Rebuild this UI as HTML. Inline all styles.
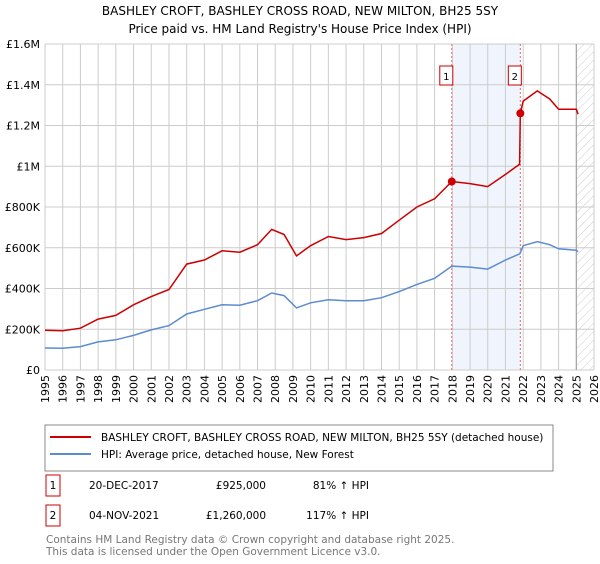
<!DOCTYPE html>
<html><head><meta charset="utf-8"><style>
body{margin:0;background:#fff;font-family:"DejaVu Sans","Liberation Sans",sans-serif;}
svg text{font-family:"DejaVu Sans","Liberation Sans",sans-serif;}
</style></head><body>
<svg id="c" width="600" height="560" viewBox="0 0 600 560" xmlns="http://www.w3.org/2000/svg">
<defs><pattern id="hatch" width="6" height="6" patternUnits="userSpaceOnUse" patternTransform="rotate(45)"><line x1="0" y1="0" x2="0" y2="6" stroke="#ccc" stroke-width="1"/></pattern></defs>
<text x="300" y="15" text-anchor="middle" font-size="12" fill="#000">BASHLEY CROFT, BASHLEY CROSS ROAD, NEW MILTON, BH25 5SY</text>
<text x="300" y="33" text-anchor="middle" font-size="12" fill="#000">Price paid vs. HM Land Registry's House Price Index (HPI)</text>
<g id="grid"></g><g id="marks"></g><g id="axes"></g>
<rect x="45" y="425" width="508" height="46" fill="#fff" stroke="#888"/>
<line x1="50" y1="437" x2="91" y2="437" stroke="#cc0000" stroke-width="2"/>
<text x="101" y="441" font-size="10.5">BASHLEY CROFT, BASHLEY CROSS ROAD, NEW MILTON, BH25 5SY (detached house)</text>
<line x1="50" y1="454" x2="91" y2="454" stroke="#5b8bd0" stroke-width="2"/>
<text x="101" y="458" font-size="10.5">HPI: Average price, detached house, New Forest</text>
<rect x="46" y="475" width="14" height="21" fill="#fff" stroke="#cc0000"/>
<text x="53" y="489" font-size="10.5" text-anchor="middle">1</text>
<text x="89" y="489" font-size="10.5">20-DEC-2017</text>
<text x="266" y="489" font-size="10.5" text-anchor="end">£925,000</text>
<text x="369" y="489" font-size="10.5" text-anchor="end">81% ↑ HPI</text>
<rect x="46" y="505" width="14" height="21" fill="#fff" stroke="#cc0000"/>
<text x="53" y="519" font-size="10.5" text-anchor="middle">2</text>
<text x="89" y="519" font-size="10.5">04-NOV-2021</text>
<text x="266" y="519" font-size="10.5" text-anchor="end">£1,260,000</text>
<text x="369" y="519" font-size="10.5" text-anchor="end">117% ↑ HPI</text>
<text x="46" y="543" font-size="10.5" fill="#777">Contains HM Land Registry data © Crown copyright and database right 2025.</text>
<text x="46" y="555" font-size="10.5" fill="#777">This data is licensed under the Open Government Licence v3.0.</text>
</svg>
<script>
const years=[1995,1996,1997,1998,1999,2000,2001,2002,2003,2004,2005,2006,2007,2007.8,2008.5,2009.2,2010,2011,2012,2013,2014,2015,2016,2017,2017.97,2019,2020,2021,2021.8,2021.84,2022,2022.8,2023.5,2024,2025.0,2025.1];
const hpiValues=[108,107,115,138,148,170,197,218,275,298,320,318,340,378,365,305,330,345,340,340,355,385,420,450,510,505,495,540,570,575,610,630,615,595,588,580];
const propertyValues=[195,193,205,250,268,320,360,395,520,540,585,578,615,690,665,560,610,655,640,650,670,735,800,840,925,915,900,960,1010,1260,1320,1370,1330,1280,1280,1255];
const yTicks=[0,200,400,600,800,1000,1200,1400,1600];
const yTickLabels=["£0","£200K","£400K","£600K","£800K","£1M","£1.2M","£1.4M","£1.6M"];
const sales=[{n:"1",t:2017.97,v:925},{n:"2",t:2021.84,v:1260}];
const NS="http://www.w3.org/2000/svg";
const L=45,R=594,T=44,B=370,X0=1995,X1=2026,YMAX=1600;
function x(t){return L+(t-X0)/(X1-X0)*(R-L);}
function y(v){return B-v/YMAX*(B-T);}
function mk(tag,attrs,parent){const e=document.createElementNS(NS,tag);for(const k in attrs)e.setAttribute(k,attrs[k]);parent.appendChild(e);return e;}
const grid=document.getElementById('grid'),marks=document.getElementById('marks'),axes=document.getElementById('axes');
const shade=mk('rect',{x:x(sales[0].t),y:T,width:x(sales[1].t)-x(sales[0].t),height:B-T,fill:'#f0f4fc'},grid);


const hatch=mk('rect',{x:x(2025.0),y:T,width:R-x(2025.0),height:B-T,fill:'url(#hatch)'},grid);


for(let yr=X0;yr<=X1;yr++){
  const l=mk('line',{x1:x(yr),x2:x(yr),y1:T,y2:B,stroke:'#ccc','stroke-width':1},grid);
  
  
  const tx=mk('text',{x:0,y:0,'font-size':11,'text-anchor':'end',transform:`translate(${x(yr)+4},${B+5}) rotate(-90)`},axes);
  tx.textContent=yr;
  
  
}
yTicks.forEach((v,i)=>{
  const l=mk('line',{x1:L,x2:R,y1:y(v),y2:y(v),stroke:'#ccc','stroke-width':1},grid);
  
  
  const tx=mk('text',{x:L-5,y:y(v)+4,'font-size':11,'text-anchor':'end'},axes);
  tx.textContent=yTickLabels[i];
  
  
});
const nowLine=mk('line',{x1:x(2025.0),x2:x(2025.0),y1:T,y2:B,stroke:'#999','stroke-width':1},grid);


sales.forEach(s=>{
  const l=mk('line',{x1:x(s.t),x2:x(s.t),y1:T,y2:B,stroke:'#e66','stroke-width':1,'stroke-dasharray':'2,2'},grid);
  
  
});
function path(vals){return vals.map((v,i)=>(i?'L':'M')+x(years[i]).toFixed(1)+','+y(v).toFixed(1)).join('');}
const hp=mk('path',{d:path(hpiValues),fill:'none',stroke:'#5b8bd0','stroke-width':1.5},marks);


const pp=mk('path',{d:path(propertyValues),fill:'none',stroke:'#cc0000','stroke-width':1.5},marks);


sales.forEach(s=>{
  const c=mk('circle',{cx:x(s.t),cy:y(s.v),r:4,fill:'#cc0000'},marks);
  
  
  const bx=mk('rect',{x:x(s.t)-12,y:T+22,width:13,height:19,fill:'#fff',stroke:'#cc0000'},marks);
  
  
  const bt=mk('text',{x:x(s.t)-5.5,y:T+36,'font-size':10,'text-anchor':'middle'},marks);
  bt.textContent=s.n;
  
  
});
</script>
</body></html>
